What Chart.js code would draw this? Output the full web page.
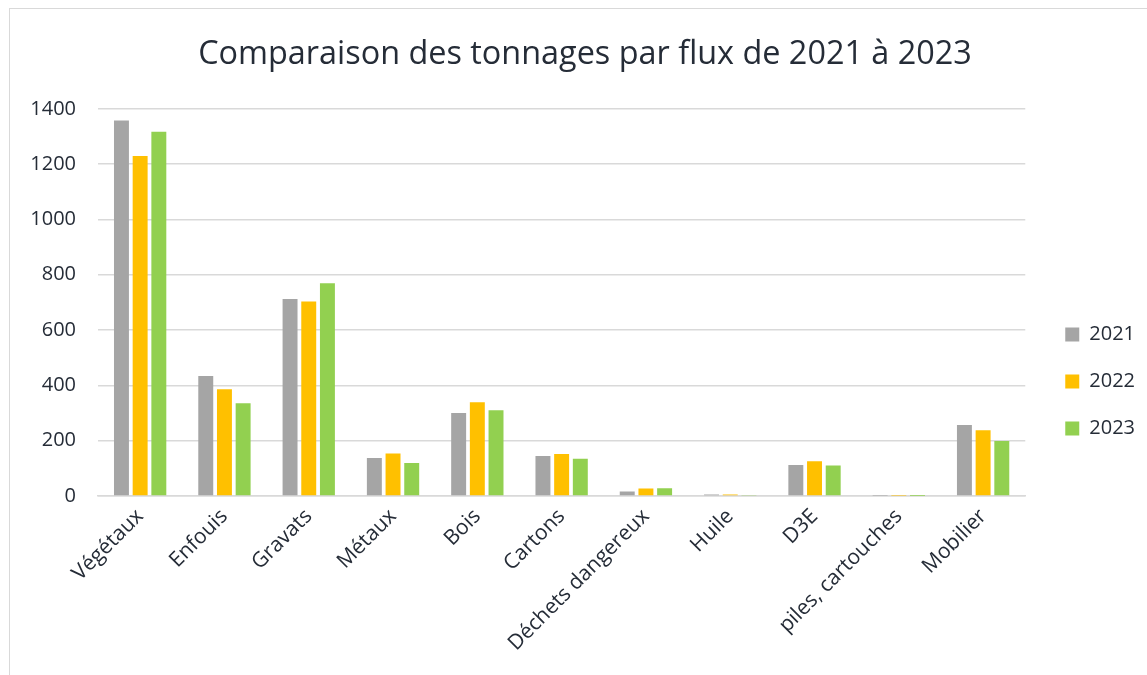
<!DOCTYPE html>
<html>
<head>
<meta charset="utf-8">
<script src="https://cdn.jsdelivr.net/npm/chart.js@4"></script>
<style>
  html, body { margin: 0; padding: 0; background: #fff; }
  #wrap { position: relative; width: 1147px; height: 675px; overflow: hidden; }
  #frame { position: absolute; left: 9px; top: 8px; width: 1160px; height: 700px; border: 1.5px solid #d9d9d9; }
  canvas { position: absolute; left: 0; top: 0; }
</style>
</head>
<body>
<div id="wrap">
  <div id="frame"></div>
  <canvas id="canvas" width="1147" height="675"></canvas>
</div>
<script>
// ---------- data ----------
const categories = ['Végétaux', 'Enfouis', 'Gravats', 'Métaux', 'Bois', 'Cartons',
  'Déchets dangereux', 'Huile', 'D3E', 'piles, cartouches', 'Mobilier']
const years = ['2021', '2022', '2023']
const tonnes2021 = [1358, 434, 712, 137, 300, 145, 16, 5, 112, 1, 257]
const tonnes2022 = [1230, 386, 703, 154, 339, 152, 27, 5, 126, 0.5, 238]
const tonnes2023 = [1317, 335, 769, 119, 310, 135, 28, 2, 110, 0.3, 199]
const yTicks = [0, 200, 400, 600, 800, 1000, 1200, 1400]

const colors = ['#A5A5A5', '#FFC000', '#92D050']
const textColor = '#252c37'
const fontFamily = "'Open Sans', sans-serif"

// legend sits a bit wider / lower than Chart.js puts it by default
const legendNudge = {
  id: 'legendNudge',
  beforeLayout(chart) {
    const lg = chart.legend
    if (lg && !lg._nudged) {
      const fit = lg.fit
      lg.fit = function () { fit.call(this); this.width += 10 }
      lg._nudged = true
    }
  },
  beforeDraw(chart) {
    const lg = chart.legend
    lg.left += 13; lg.right += 13
    lg.top += 34; lg.bottom += 34
  }
}

const ctx = document.getElementById('canvas').getContext('2d')

new Chart(ctx, {
  type: 'bar',
  data: {
    labels: categories,
    datasets: [tonnes2021, tonnes2022, tonnes2023].map((vals, i) => ({
      label: years[i],
      data: vals,
      backgroundColor: colors[i],
      borderWidth: 0,
      categoryPercentage: 0.665,
      barPercentage: 0.8
    }))
  },
  plugins: [legendNudge],
  options: {
    responsive: false,
    animation: false,
    layout: { padding: { left: 28, right: 5, top: 20, bottom: 0 } },
    plugins: {
      title: {
        display: true,
        text: 'Comparaison des tonnages par flux de 2021 à 2023',
        color: textColor,
        font: { family: fontFamily, size: 32.4, weight: 'normal' },
        padding: { top: 15, bottom: 35 }
      },
      legend: {
        position: 'right',
        align: 'center',
        labels: {
          color: textColor,
          font: { family: fontFamily, size: 20 },
          boxWidth: 14,
          boxHeight: 14,
          padding: 27
        }
      },
      tooltip: { enabled: false }
    },
    scales: {
      x: {
        grid: { display: false },
        border: { color: '#d9d9d9', width: 1.5 },
        ticks: {
          color: textColor,
          font: { family: fontFamily, size: 21 },
          maxRotation: 45,
          minRotation: 45,
          autoSkip: false,
          padding: 0
        },
        afterFit: scale => { scale.height = 179 }
      },
      y: {
        min: 0,
        max: 1400,
        afterBuildTicks: scale => { scale.ticks = yTicks.map(v => ({ value: v })) },
        grid: { color: '#d9d9d9', lineWidth: 1.5, drawTicks: false },
        border: { display: false },
        ticks: {
          color: textColor,
          font: { family: fontFamily, size: 20 },
          padding: 22,
          callback: v => String(v)
        },
        afterFit: scale => { scale.width = 70 }
      }
    }
  }
})
</script>
</body>
</html>
